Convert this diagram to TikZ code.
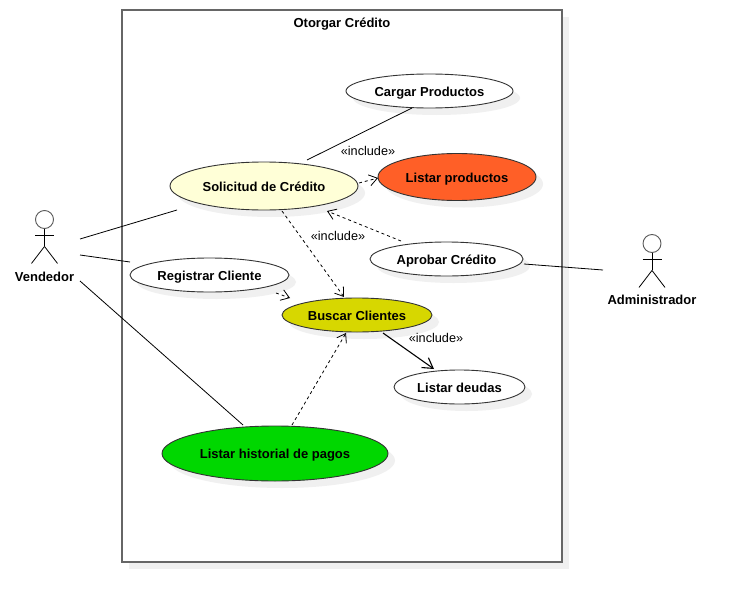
\documentclass[tikz,border=0pt]{standalone}
\usepackage{fontspec}
\setmainfont{Liberation Sans}
\usetikzlibrary{shapes.geometric,shadows,arrows.meta}
\definecolor{ucyellow}{HTML}{FFFFD7}
\definecolor{ucorange}{HTML}{FF5F27}
\definecolor{ucolive}{HTML}{D7D700}
\definecolor{ucgreen}{HTML}{00D700}
\tikzset{
  usecase/.style={ellipse, draw=black!80, line width=0.9pt, fill=white, inner sep=0pt, text height=12pt, text depth=1.5pt,
    font=\fontsize{13}{15}\selectfont\bfseries,
    drop shadow={shadow xshift=7pt, shadow yshift=-7pt, fill=black!6, opacity=1}},
  sysframe/.style={rectangle, draw=black!60, line width=1.5pt, fill=white, minimum width=440pt, minimum height=552pt,
    drop shadow={shadow xshift=7pt, shadow yshift=-7pt, fill=black!6, opacity=1}},
  bold/.style={font=\fontsize{13}{15}\selectfont\bfseries},
  stereo/.style={font=\fontsize{12.7}{15}\selectfont},
  dep/.style={line width=0.8pt, dash pattern=on 3pt off 3pt, -{Straight Barb[length=8pt,width=11pt]}},
  link/.style={line width=0.8pt}
}
\begin{document}
\begin{tikzpicture}[x=1pt, y=-1pt, >={Straight Barb[length=10pt,width=12pt]}]
\useasboundingbox (0,0) rectangle (741,602);
\node[sysframe] (sistema) at (342,286) {};
\node[bold] (titulo) at (342,24) {Otorgar Crédito};

\node[usecase, minimum width=167pt, minimum height=34pt] (cargar) at (429.5,91) {Cargar Productos};
\node[usecase, minimum width=158pt, minimum height=47pt, fill=ucorange] (listar) at (457,177) {Listar productos};
\node[usecase, minimum width=188pt, minimum height=48pt, fill=ucyellow] (solicitud) at (264,186) {Solicitud de Crédito};
\node[usecase, minimum width=153pt, minimum height=34pt] (aprobar) at (446.5,259) {Aprobar Crédito};
\node[usecase, minimum width=159pt, minimum height=34pt] (registrar) at (209.5,275) {Registrar Cliente};
\node[usecase, minimum width=150pt, minimum height=34pt, fill=ucolive] (buscar) at (357,315) {Buscar Clientes};
\node[usecase, minimum width=131pt, minimum height=34pt] (deudas) at (459.5,387) {Listar deudas};
\node[usecase, minimum width=226pt, minimum height=55pt, fill=ucgreen] (historial) at (275,453.5) {Listar historial de pagos};

\node[stereo] (incl1) at (368,150.5) {«include»};
\node[stereo] (incl2) at (338,235.5) {«include»};
\node[stereo] (incl3) at (436,337.5) {«include»};

% actors
\foreach \name/\x/\y/\ly/\txt in {vendedor/44.5/219.5/277/Vendedor, administrador/652/243.5/300/Administrador} {
  \node[circle, draw=black!65, line width=0.9pt, inner sep=0pt, minimum size=18pt] (\name) at (\x,\y) {};
  \draw[link] (\name.south) -- ++(0,17.5) coordinate (\name hip);
  \draw[link] ([shift={(-9.5,6)}]\name.south) -- ++(19,0);
  \draw[link] (\name hip) -- ++(-13,17);
  \draw[link] (\name hip) -- ++(13,17);
  \node[bold] (\name label) at (\x,\ly) {\txt};
}
\coordinate (vend1) at (80,239);
\coordinate (vend2) at (80,255);
\coordinate (vend3) at (80,281);
\coordinate (admin1) at (603,270);

\draw[link] (vend1) -- ([shift={(-87,24)}]solicitud.center);
\draw[link] (vend2) -- ([shift={(-79.5,-13)}]registrar.center);
\draw[link] (vend3) -- ([shift={(-32,-28.5)}]historial.center);
\draw[link] ([shift={(77.5,5)}]aprobar.center) -- (admin1);
\draw[link] ([shift={(43,-26)}]solicitud.center) -- ([shift={(-17.5,17)}]cargar.center);

\draw[dep] ([shift={(95,-3)}]solicitud.center) -- ([shift={(-79,1)}]listar.center);
\draw[dep] ([shift={(18,25)}]solicitud.center) -- ([shift={(-13,-18)}]buscar.center);
\draw[dep] ([shift={(-45.5,-18)}]aprobar.center) -- ([shift={(63,25)}]solicitud.center);
\draw[dep] ([shift={(66.5,18)}]registrar.center) -- ([shift={(-67,-17)}]buscar.center);
\draw[dep] ([shift={(17,-28.5)}]historial.center) -- ([shift={(-11,18)}]buscar.center);
\draw[link, line width=1.1pt, ->] ([shift={(26,18)}]buscar.center) -- ([shift={(-25.5,-18)}]deudas.center);
\end{tikzpicture}
\end{document}
